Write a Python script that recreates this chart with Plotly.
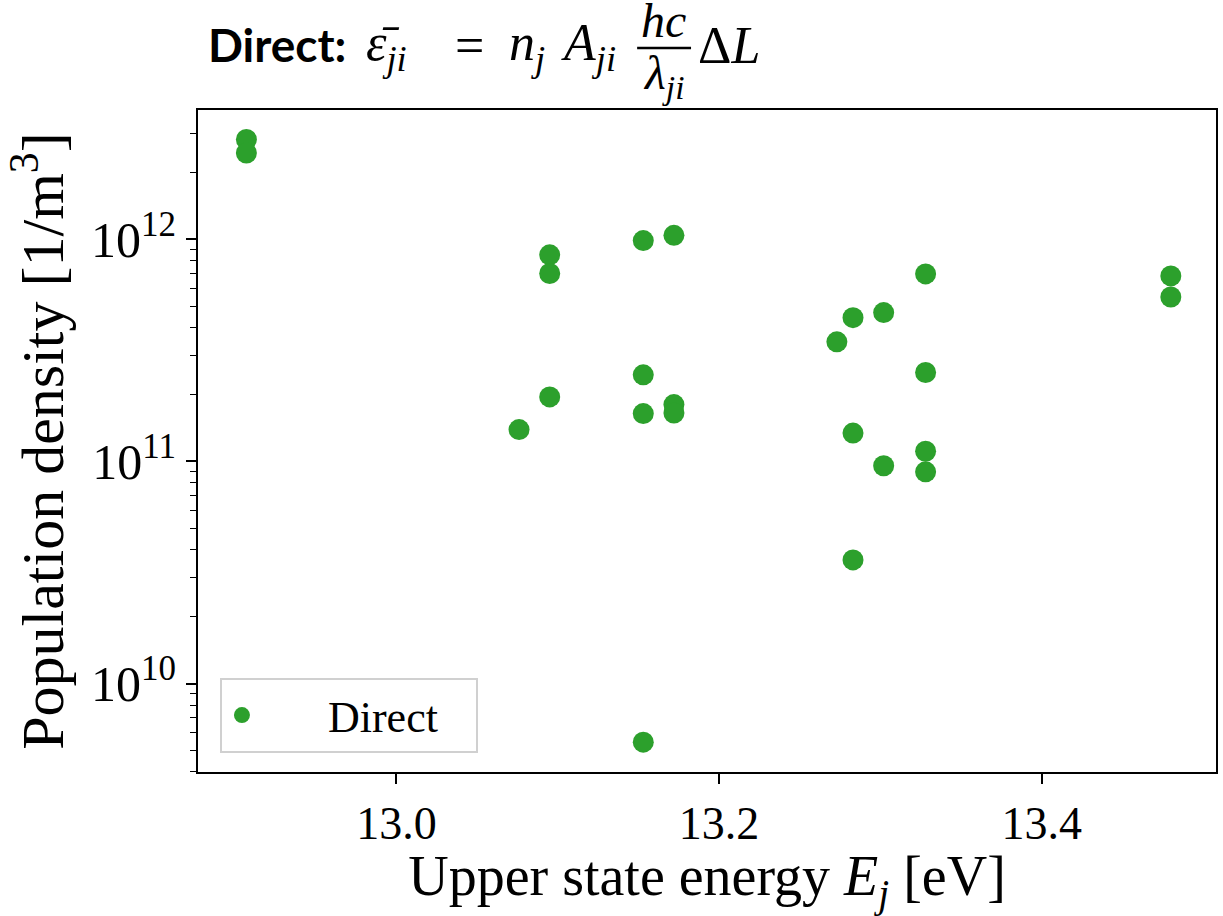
import plotly.graph_objects as go

# ---- data ----
energy_eV = [12.907, 12.907,
             13.076,
             13.095, 13.095, 13.095,
             13.153, 13.153, 13.153, 13.153,
             13.172, 13.172, 13.172,
             13.273,
             13.283, 13.283, 13.283,
             13.302, 13.302,
             13.328, 13.328, 13.328, 13.328,
             13.480, 13.480]
density = [2.81e12, 2.44e12,
           1.39e11,
           8.5e11, 7.0e11, 1.95e11,
           9.85e11, 2.45e11, 1.64e11, 5.45e9,
           1.04e12, 1.80e11, 1.65e11,
           3.45e11,
           4.43e11, 1.34e11, 3.60e10,
           4.67e11, 9.55e10,
           6.97e11, 2.51e11, 1.11e11, 8.97e10,
           6.83e11, 5.49e11]

x_tickvals = [13.0, 13.2, 13.4]
x_ticktext = ["13.0", "13.2", "13.4"]
y_tickvals = [1e10, 1e11, 1e12]
y_ticktext = ["10<sup>10</sup>", "10<sup>11</sup>", "10<sup>12</sup>"]
series_name = "Direct"

W, H = 1223, 916
L, R, T, B = 198, 5, 110, 144
pw, ph = W - L - R, H - T - B

def px(x):
    return (x - L) / pw

def py(y):
    return (H - B - y) / ph

serif = "Liberation Serif"
GREEN = "#2ca02c"

fig = go.Figure()
fig.add_trace(go.Scatter(
    x=energy_eV, y=density, mode="markers",
    name="\u00a0\u00a0\u00a0\u00a0\u00a0\u00a0" + series_name + "\u00a0\u00a0\u00a0",
    marker=dict(color=GREEN, size=21, line=dict(width=0)),
))

fig.update_layout(
    width=W, height=H,
    margin=dict(l=L, r=R, t=T, b=B),
    paper_bgcolor="white", plot_bgcolor="white",
    font=dict(family=serif, color="black"),
    showlegend=True,
    legend=dict(
        x=px(220), y=py(678), xanchor="left", yanchor="top",
        bgcolor="white", bordercolor="#d0d0d0", borderwidth=2,
        font=dict(family=serif, size=44, color="black"),
        itemsizing="trace",
    ),
)

fig.update_xaxes(
    range=[12.877, 13.508],
    tickvals=x_tickvals, ticktext=x_ticktext,
    ticks="outside", ticklen=10, tickwidth=1.5, tickcolor="black",
    tickfont=dict(family=serif, size=46, color="black"),
    showline=True, linewidth=2, linecolor="black", mirror=True,
    showgrid=False, zeroline=False,
    title=dict(text="Upper state energy <i>E<sub>j</sub></i> [eV]",
               font=dict(family=serif, size=56, color="black"), standoff=18),
)
fig.update_yaxes(
    type="log", range=[9.602, 12.581],
    tickvals=y_tickvals, ticktext=y_ticktext,
    ticks="outside", ticklen=10, tickwidth=1.5, tickcolor="black",
    tickfont=dict(family=serif, size=50, color="black"),
    minor=dict(ticks="outside", ticklen=6, tickwidth=1.2, tickcolor="black",
               dtick="D1", showgrid=False),
    showline=True, linewidth=2, linecolor="black", mirror=True,
    showgrid=False, zeroline=False,
    title=dict(text="Population density [1/m<sup>3</sup>]",
               font=dict(family=serif, size=60, color="black"), standoff=8),
)

# ---- title: Direct: eps_ji = n_j A_ji hc/lambda_ji DeltaL ----
mfont = dict(family=serif, size=52, color="black")
ffont = dict(family=serif, size=48, color="black")
bar_y = 48
ann = [
    dict(text="<b>Direct:</b>", x=px(206), y=py(44), xanchor="left", yanchor="middle",
         font=dict(family="Lato", size=46, color="black")),
    dict(text="<i>\u03b5\u0304<sub>ji</sub></i>", x=px(364), y=py(47), xanchor="left", yanchor="middle", font=mfont),
    dict(text="=", x=px(470), y=py(45), xanchor="center", yanchor="middle", font=mfont),
    dict(text="<i>n<sub>j</sub></i>", x=px(508), y=py(47), xanchor="left", yanchor="middle", font=mfont),
    dict(text="<i>A<sub>ji</sub></i>", x=px(560), y=py(47), xanchor="left", yanchor="middle", font=mfont),
    dict(text="<i>hc</i>", x=px(664), y=py(bar_y + 1), xanchor="center", yanchor="bottom", font=ffont),
    dict(text="<i>\u03bb<sub>ji</sub></i>", x=px(664), y=py(bar_y - 4), xanchor="center", yanchor="top", font=ffont),
    dict(text="\u0394<i>L</i>", x=px(697), y=py(45), xanchor="left", yanchor="middle", font=mfont),
]
for a in ann:
    a.update(xref="paper", yref="paper", showarrow=False)
    fig.add_annotation(**a)

fig.add_shape(type="line", xref="paper", yref="paper",
              x0=px(638), x1=px(692), y0=py(bar_y), y1=py(bar_y),
              line=dict(color="black", width=2.5))

fig.write_html("out.html")
